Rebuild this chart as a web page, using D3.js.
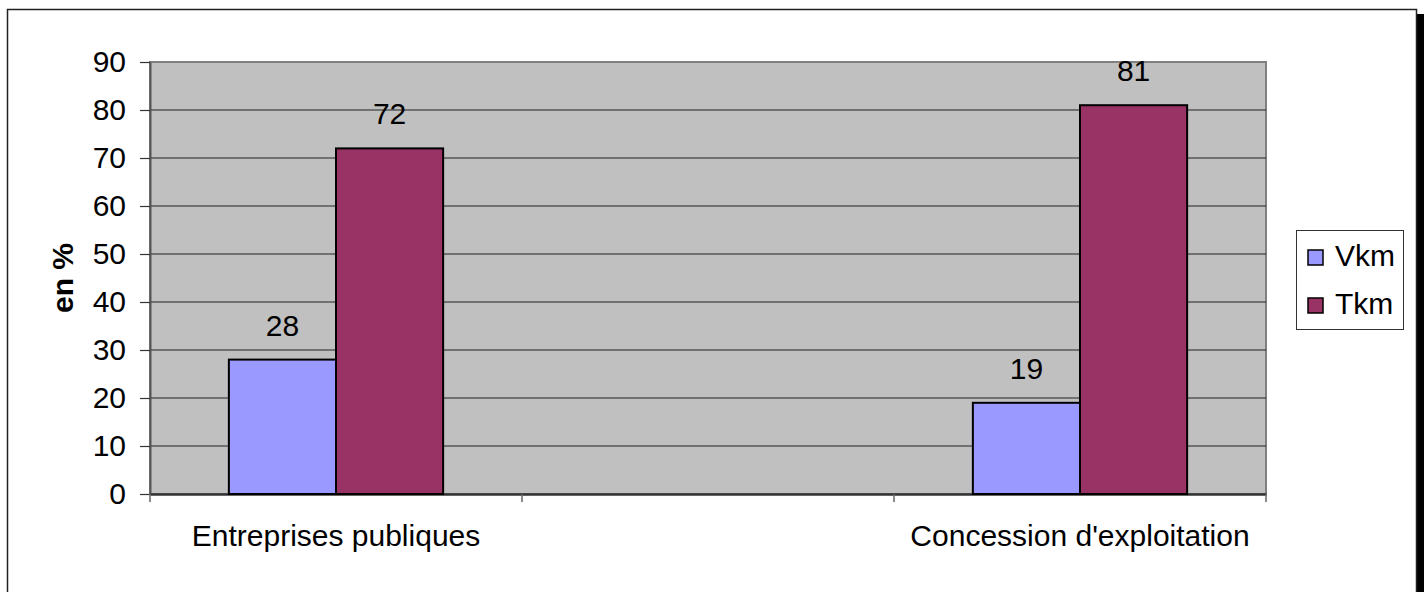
<!DOCTYPE html>
<html><head><meta charset="utf-8">
<script src="https://cdn.jsdelivr.net/npm/d3@7"></script>
<style>body{margin:0;background:#fff}svg{display:block}text{font-family:"Liberation Sans",Arial,sans-serif}</style>
</head><body><svg id="c" width="1424" height="592"></svg>
<script>
const categories = ["Entreprises publiques", "", "Concession d'exploitation"];
const seriesNames = ["Vkm", "Tkm"];
const vkm = [28, null, 19];
const tkm = [72, null, 81];
const yTicks = [0,10,20,30,40,50,60,70,80,90];
const colors = ["#9999FF", "#993366"];
const FS = 30;

const svg = d3.select("#c");
// outer frame with shadow
svg.append("rect").attr("x",1417).attr("y",14).attr("width",7).attr("height",578).attr("fill","#000");
svg.append("rect").attr("x",7.5).attr("y",9.5).attr("width",1409).attr("height",600).attr("fill","#fff").attr("stroke","#222").attr("stroke-width",1.5);

const L=150, R=1266, T=62, B=494;
const x = d3.scaleBand().domain(categories.map((c,i)=>i)).range([L,R]).paddingInner(0).paddingOuter(0);
const y = d3.scaleLinear().domain([0,90]).range([B,T]);
const groupPad = 0.212;
const x1 = d3.scaleBand().domain(seriesNames).range([0, x.bandwidth()*(1-2*groupPad)]);

svg.append("rect").attr("x",L).attr("y",T).attr("width",R-L).attr("height",B-T).attr("fill","#C0C0C0").attr("stroke","#808080").attr("stroke-width",2);

// gridlines
svg.append("g").selectAll("line").data(yTicks.filter(t=>t>0 && t<90)).join("line")
  .attr("x1",L).attr("x2",R).attr("y1",d=>y(d)).attr("y2",d=>y(d)).attr("stroke","#222").attr("stroke-width",1.2);

// y axis
const ya = svg.append("g").attr("transform",`translate(${L},0)`)
  .call(d3.axisLeft(y).tickValues(yTicks).tickSize(10).tickPadding(14).tickSizeOuter(0));
ya.select(".domain").attr("stroke","#555").attr("stroke-width",2);
ya.selectAll(".tick line").attr("stroke","#333").attr("stroke-width",1.2);
ya.selectAll("text").attr("font-size",FS).attr("fill","#000").attr("font-family","Liberation Sans, Arial, sans-serif");

// x axis
const xa = svg.append("g").attr("transform",`translate(0,${B})`)
  .call(d3.axisBottom(x).tickFormat(i=>categories[i]).tickSize(0).tickPadding(31).tickSizeOuter(0));
xa.select(".domain").attr("stroke","#333").attr("stroke-width",2.5);
xa.selectAll("text").attr("font-size",FS).attr("fill","#000").attr("font-family","Liberation Sans, Arial, sans-serif");
const xt = d3.range(categories.length+1).map(i=> i<categories.length ? x(i) : x(i-1)+x.bandwidth());
svg.append("g").selectAll("line").data(xt).join("line")
  .attr("x1",d=>d).attr("x2",d=>d).attr("y1",B).attr("y2",B+8).attr("stroke","#666").attr("stroke-width",1.5);

// bars
const data = categories.map((c,i)=>({i, vals:[vkm[i], tkm[i]]}));
const g = svg.append("g").selectAll("g").data(data).join("g")
  .attr("transform",d=>`translate(${x(d.i)+x.bandwidth()*groupPad},0)`);
g.selectAll("rect").data(d=>d.vals.map((v,k)=>({v,k})).filter(e=>e.v!=null)).join("rect")
  .attr("x",e=>x1(seriesNames[e.k])).attr("width",x1.bandwidth())
  .attr("y",e=>y(e.v)).attr("height",e=>B-y(e.v))
  .attr("fill",e=>colors[e.k]).attr("stroke","#000").attr("stroke-width",2);
g.selectAll("text").data(d=>d.vals.map((v,k)=>({v,k})).filter(e=>e.v!=null)).join("text")
  .attr("x",e=>x1(seriesNames[e.k])+x1.bandwidth()/2).attr("y",e=>y(e.v)-24)
  .attr("text-anchor","middle").attr("font-size",FS).text(e=>e.v);

// y title
svg.append("text").attr("transform","translate(73,278) rotate(-90)").attr("text-anchor","middle")
  .attr("font-size",FS).attr("font-weight","bold").text("en %");

// legend
const lg = svg.append("g");
lg.append("rect").attr("x",1296.5).attr("y",230.5).attr("width",107).attr("height",99).attr("fill","#fff").attr("stroke","#333").attr("stroke-width",1);
const li = lg.selectAll("g").data(seriesNames).join("g").attr("transform",(d,i)=>`translate(1308,${250+i*48})`);
li.append("rect").attr("width",15).attr("height",15).attr("fill",(d,i)=>colors[i]).attr("stroke","#000").attr("stroke-width",1.5);
li.append("text").attr("x",27).attr("y",16).attr("font-size",FS).text(d=>d);
</script></body></html>
